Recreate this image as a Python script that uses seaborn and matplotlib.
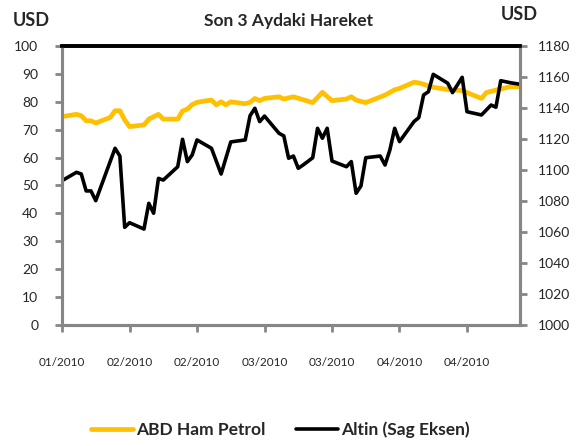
import pandas as pd
import matplotlib.pyplot as plt
import seaborn as sns
from matplotlib.lines import Line2D

# baslangic tarihi ve gun farklari
START = '2010-01-28'

oil_days = [0, 3, 4, 5, 6, 7, 10, 11, 12, 13, 14, 17, 18, 20, 21, 24, 25, 26, 27, 28,
            30, 31, 32, 33, 34, 35, 38, 39, 40, 41, 42, 45, 46, 48, 52, 54, 56, 59, 60, 61,
            63, 67, 69, 70, 73, 74, 77, 80, 83, 87, 88, 90, 93, 95]
oil_values = [74.7, 75.5, 75.0, 73.2, 73.2, 72.4, 74.4, 76.8, 76.8, 73.5, 71.1, 71.7, 73.8, 75.5,
              73.8, 73.8, 76.7, 77.4, 79.0, 79.8, 80.4, 80.6, 78.9, 80.0, 78.9, 80.0, 79.3, 79.8,
              81.2, 80.4, 81.2, 81.8, 81.0, 81.8, 79.7, 83.4, 80.4, 81.0, 81.8, 80.6, 79.7, 82.4,
              84.3, 84.8, 87.0, 86.8, 85.2, 84.4, 84.0, 81.2, 83.3, 84.2, 85.4, 85.4]

gold_days = [0, 3, 4, 5, 6, 7, 11, 12, 13, 14, 17, 18, 19, 20, 21, 24, 25, 26, 27, 28,
             31, 33, 35, 38, 39, 40, 41, 42, 45, 46, 47, 48, 49, 50, 52, 53, 54, 55, 56, 59,
             60, 61, 62, 63, 66, 67, 68, 69, 70, 73, 74, 75, 76, 77, 80, 81, 83, 84, 87, 89,
             90, 91, 93, 95]
gold_values = [1093.1, 1098.5, 1097.4, 1086.5, 1086.5, 1080.2, 1114.0, 1109.0, 1063.0, 1066.0,
               1061.9, 1078.5, 1072.1, 1094.6, 1093.5, 1102.1, 1119.8, 1105.4, 1109.7, 1119.4,
               1114.0, 1097.4, 1118.1, 1119.4, 1135.0, 1139.8, 1131.2, 1134.8, 1123.7, 1122.0,
               1107.6, 1109.0, 1101.1, 1103.2, 1107.9, 1126.9, 1120.5, 1126.9, 1105.8, 1102.1,
               1105.4, 1085.0, 1089.7, 1107.9, 1109.0, 1103.2, 1112.9, 1126.9, 1118.3, 1131.2,
               1133.8, 1148.4, 1150.5, 1161.7, 1156.0, 1149.9, 1159.8, 1137.6, 1135.5, 1141.9,
               1140.5, 1157.6, 1156.3, 1155.3]

tick_days = [0, 14, 28, 42, 56, 70, 84]
tick_labels = ['01/2010', '02/2010', '02/2010', '03/2010', '03/2010', '04/2010', '04/2010']

OIL_COLOR = '#FFC000'
GOLD_COLOR = '#000000'
AXIS_GRAY = '#868686'

start = pd.Timestamp(START)
oil = pd.DataFrame({'tarih': start + pd.to_timedelta(oil_days, unit='D'), 'deger': oil_values})
gold = pd.DataFrame({'tarih': start + pd.to_timedelta(gold_days, unit='D'), 'deger': gold_values})

sns.set_style('white')
plt.rcParams['font.family'] = ['Lato', 'DejaVu Sans']

fig = plt.figure(figsize=(5.78, 4.46), dpi=100)
ax = fig.add_axes([0.1073, 0.2713, 0.7924, 0.6256])
ax2 = ax.twinx()

sns.lineplot(data=oil, x='tarih', y='deger', ax=ax, color=OIL_COLOR, lw=3.4)
sns.lineplot(data=gold, x='tarih', y='deger', ax=ax2, color=GOLD_COLOR, lw=2.6)

ax.set_xlim(start, start + pd.Timedelta(days=95))
ax.set_ylim(0, 100)
ax.set_yticks(range(0, 101, 10))
ax2.set_ylim(1000, 1180)
ax2.set_yticks(range(1000, 1181, 20))
ax.set_xticks(start + pd.to_timedelta(tick_days, unit='D'))
ax.set_xticklabels(tick_labels)
ax.set_xlabel('')
ax.set_ylabel('')
ax2.set_ylabel('')

for a in (ax, ax2):
    for side in ('left', 'right', 'bottom'):
        a.spines[side].set_color(AXIS_GRAY)
        a.spines[side].set_linewidth(2.2)
    a.spines['top'].set_color('black')
    a.spines['top'].set_linewidth(2.6)

ax.tick_params(axis='y', left=True, direction='out', length=5, width=2, color=AXIS_GRAY,
               labelsize=10, pad=12)
ax.tick_params(axis='x', bottom=True, direction='out', length=5, width=2, color=AXIS_GRAY,
               labelsize=8.5, pad=18)
ax2.tick_params(axis='y', right=True, direction='out', length=5, width=2, color=AXIS_GRAY,
                labelsize=10, pad=8)

fig.text(0.5, 0.953, 'Son 3 Aydaki Hareket', ha='center', va='center',
         fontsize=12.5, fontweight='bold')
fig.text(0.054, 0.955, 'USD', ha='center', va='center', fontsize=13, fontweight='bold')
fig.text(0.899, 0.968, 'USD', ha='center', va='center', fontsize=13, fontweight='bold')

handles = [Line2D([], [], color=OIL_COLOR, lw=3.4), Line2D([], [], color=GOLD_COLOR, lw=2.6)]
fig.legend(handles, ['ABD Ham Petrol', 'Altin (Sag Eksen)'], loc='center',
           bbox_to_anchor=(0.485, 0.036), ncol=2, frameon=False, handlelength=2.4,
           handletextpad=0.15, columnspacing=1.8,
           prop={'size': 12.5, 'weight': 'bold'})

fig.savefig('out.png', dpi=100)
